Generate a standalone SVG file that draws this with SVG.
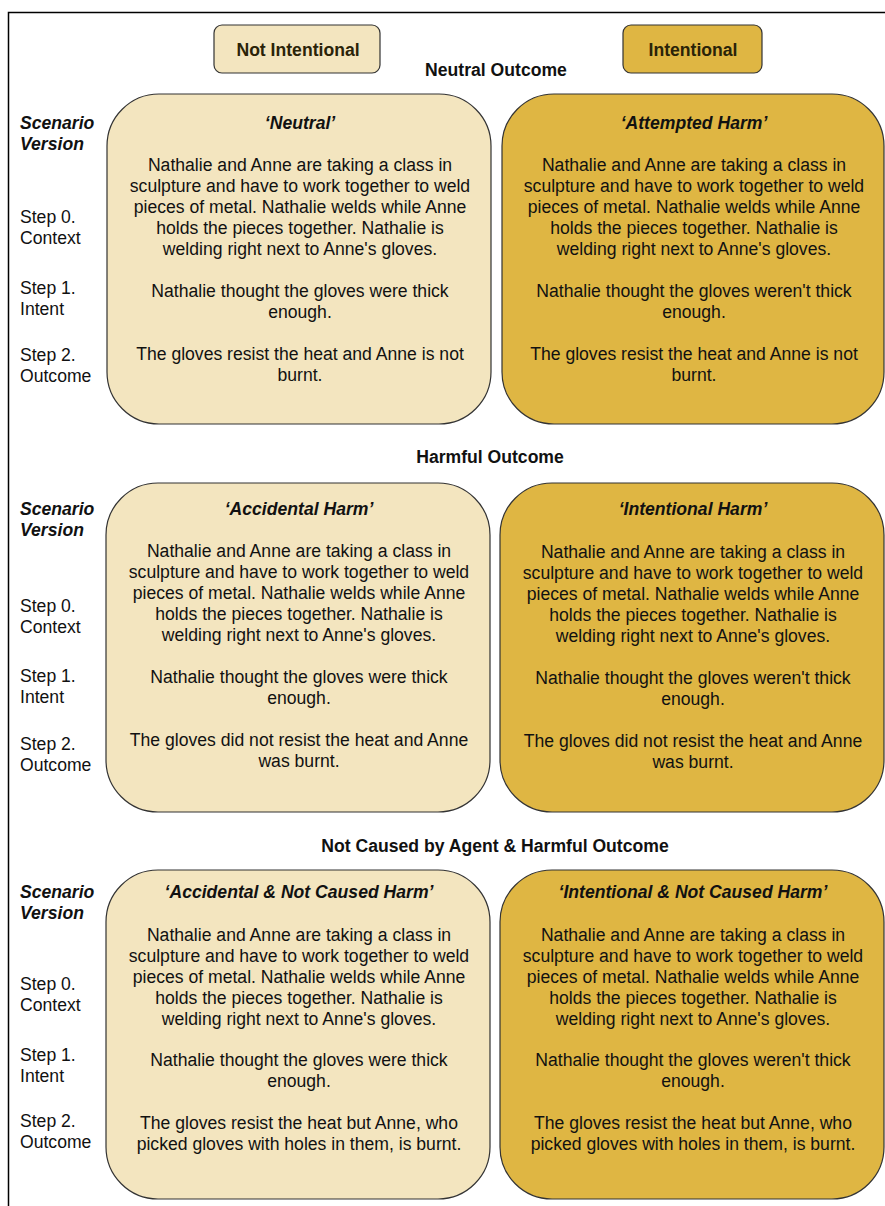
<svg xmlns="http://www.w3.org/2000/svg" width="885" height="1206" viewBox="0 0 885 1206">
<style>
text{font-family:"Liberation Sans",Arial,sans-serif;font-size:17.6px;fill:#111}
.c{text-anchor:middle}
.b{font-weight:bold}
.bi{font-weight:bold;font-style:italic}
.light{fill:#F3E5BF;stroke:#333;stroke-width:1.2}
.dark{fill:#DFB643;stroke:#333;stroke-width:1.2}
.hdr{font-weight:bold;fill:#2a2308}
</style>
<rect width="885" height="1206" fill="#fff"/>
<path d="M8.5 1206 V12.5 H885" fill="none" stroke="#000" stroke-width="1.5"/>

<g id="hdr-not-intentional">
<rect class="light" x="214" y="25" width="166" height="48" rx="8"/>
<text class="c hdr" x="298" y="56">Not Intentional</text>
</g>
<g id="hdr-intentional">
<rect class="dark" x="623" y="25" width="139" height="48" rx="8"/>
<text class="c hdr" x="693" y="56">Intentional</text>
</g>

<g id="section-headings">
<text class="c b" x="496" y="76">Neutral Outcome</text>
<text class="c b" x="490" y="463">Harmful Outcome</text>
<text class="c b" x="495" y="852">Not Caused by Agent &amp; Harmful Outcome</text>
</g>

<g id="labels-row1">
<text class="bi" x="20" y="129">Scenario</text>
<text class="bi" x="20" y="150">Version</text>
<text x="20" y="223">Step 0.</text>
<text x="20" y="244">Context</text>
<text x="20" y="294">Step 1.</text>
<text x="20" y="315">Intent</text>
<text x="20" y="361">Step 2.</text>
<text x="20" y="382">Outcome</text>
</g>
<g id="labels-row2">
<text class="bi" x="20" y="515">Scenario</text>
<text class="bi" x="20" y="536">Version</text>
<text x="20" y="612">Step 0.</text>
<text x="20" y="633">Context</text>
<text x="20" y="682">Step 1.</text>
<text x="20" y="703">Intent</text>
<text x="20" y="750">Step 2.</text>
<text x="20" y="771">Outcome</text>
</g>
<g id="labels-row3">
<text class="bi" x="20" y="898">Scenario</text>
<text class="bi" x="20" y="919">Version</text>
<text x="20" y="990">Step 0.</text>
<text x="20" y="1011">Context</text>
<text x="20" y="1061">Step 1.</text>
<text x="20" y="1082">Intent</text>
<text x="20" y="1127">Step 2.</text>
<text x="20" y="1148">Outcome</text>
</g>

<g id="neutral">
<rect class="light" x="107" y="94" width="384" height="330" rx="52"/>
<text class="c bi" x="300" y="129">‘Neutral’</text>
<text class="c" x="300" y="171">Nathalie and Anne are taking a class in</text>
<text class="c" x="300" y="192">sculpture and have to work together to weld</text>
<text class="c" x="300" y="213">pieces of metal. Nathalie welds while Anne</text>
<text class="c" x="300" y="234">holds the pieces together. Nathalie is</text>
<text class="c" x="300" y="255">welding right next to Anne's gloves.</text>
<text class="c" x="300" y="297">Nathalie thought the gloves were thick</text>
<text class="c" x="300" y="318">enough.</text>
<text class="c" x="300" y="360">The gloves resist the heat and Anne is not</text>
<text class="c" x="300" y="381">burnt.</text>
</g>
<g id="attempted-harm">
<rect class="dark" x="502" y="94" width="382" height="330" rx="52"/>
<text class="c bi" x="694" y="129">‘Attempted Harm’</text>
<text class="c" x="694" y="171">Nathalie and Anne are taking a class in</text>
<text class="c" x="694" y="192">sculpture and have to work together to weld</text>
<text class="c" x="694" y="213">pieces of metal. Nathalie welds while Anne</text>
<text class="c" x="694" y="234">holds the pieces together. Nathalie is</text>
<text class="c" x="694" y="255">welding right next to Anne's gloves.</text>
<text class="c" x="694" y="297">Nathalie thought the gloves weren't thick</text>
<text class="c" x="694" y="318">enough.</text>
<text class="c" x="694" y="360">The gloves resist the heat and Anne is not</text>
<text class="c" x="694" y="381">burnt.</text>
</g>

<g id="accidental-harm">
<rect class="light" x="106" y="483" width="384" height="329" rx="52"/>
<text class="c bi" x="299" y="515">‘Accidental Harm’</text>
<text class="c" x="299" y="557">Nathalie and Anne are taking a class in</text>
<text class="c" x="299" y="578">sculpture and have to work together to weld</text>
<text class="c" x="299" y="599">pieces of metal. Nathalie welds while Anne</text>
<text class="c" x="299" y="620">holds the pieces together. Nathalie is</text>
<text class="c" x="299" y="641">welding right next to Anne's gloves.</text>
<text class="c" x="299" y="683">Nathalie thought the gloves were thick</text>
<text class="c" x="299" y="704">enough.</text>
<text class="c" x="299" y="746">The gloves did not resist the heat and Anne</text>
<text class="c" x="299" y="767">was burnt.</text>
</g>
<g id="intentional-harm">
<rect class="dark" x="500" y="483" width="384" height="329" rx="52"/>
<text class="c bi" x="693" y="515">‘Intentional Harm’</text>
<text class="c" x="693" y="558">Nathalie and Anne are taking a class in</text>
<text class="c" x="693" y="579">sculpture and have to work together to weld</text>
<text class="c" x="693" y="600">pieces of metal. Nathalie welds while Anne</text>
<text class="c" x="693" y="621">holds the pieces together. Nathalie is</text>
<text class="c" x="693" y="642">welding right next to Anne's gloves.</text>
<text class="c" x="693" y="684">Nathalie thought the gloves weren't thick</text>
<text class="c" x="693" y="705">enough.</text>
<text class="c" x="693" y="747">The gloves did not resist the heat and Anne</text>
<text class="c" x="693" y="768">was burnt.</text>
</g>

<g id="accidental-not-caused-harm">
<rect class="light" x="106" y="870" width="384" height="329" rx="52"/>
<text class="c bi" x="299" y="898">‘Accidental &amp; Not Caused Harm’</text>
<text class="c" x="299" y="941">Nathalie and Anne are taking a class in</text>
<text class="c" x="299" y="962">sculpture and have to work together to weld</text>
<text class="c" x="299" y="983">pieces of metal. Nathalie welds while Anne</text>
<text class="c" x="299" y="1004">holds the pieces together. Nathalie is</text>
<text class="c" x="299" y="1025">welding right next to Anne's gloves.</text>
<text class="c" x="299" y="1066">Nathalie thought the gloves were thick</text>
<text class="c" x="299" y="1087">enough.</text>
<text class="c" x="299" y="1129">The gloves resist the heat but Anne, who</text>
<text class="c" x="299" y="1150">picked gloves with holes in them, is burnt.</text>
</g>
<g id="intentional-not-caused-harm">
<rect class="dark" x="500" y="870" width="384" height="329" rx="52"/>
<text class="c bi" x="693" y="898">‘Intentional &amp; Not Caused Harm’</text>
<text class="c" x="693" y="941">Nathalie and Anne are taking a class in</text>
<text class="c" x="693" y="962">sculpture and have to work together to weld</text>
<text class="c" x="693" y="983">pieces of metal. Nathalie welds while Anne</text>
<text class="c" x="693" y="1004">holds the pieces together. Nathalie is</text>
<text class="c" x="693" y="1025">welding right next to Anne's gloves.</text>
<text class="c" x="693" y="1066">Nathalie thought the gloves weren't thick</text>
<text class="c" x="693" y="1087">enough.</text>
<text class="c" x="693" y="1129">The gloves resist the heat but Anne, who</text>
<text class="c" x="693" y="1150">picked gloves with holes in them, is burnt.</text>
</g>
<g id="connectors"></g>
</svg>
